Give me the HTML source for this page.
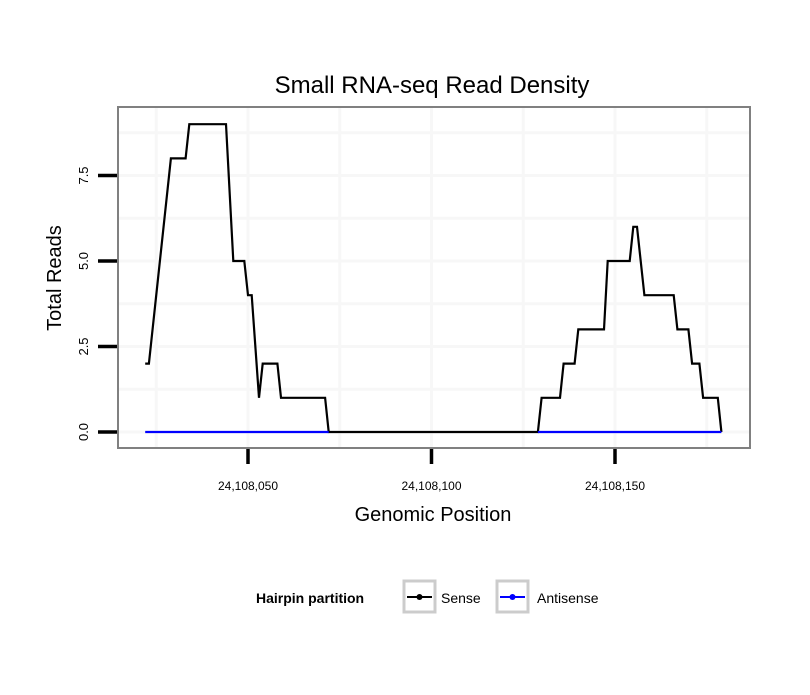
<!DOCTYPE html>
<html><head><meta charset="utf-8"><style>
body{margin:0;background:#fff;}
svg text{font-family:"Liberation Sans",sans-serif;}
</style></head><body>
<svg id="chart" width="810" height="690" xmlns="http://www.w3.org/2000/svg">
<rect x="0" y="0" width="810" height="690" fill="#fff"/>
<text x="432" y="93" font-size="24" text-anchor="middle">Small RNA-seq Read Density</text>
<g id="grid"></g>
<g id="series"></g>
<rect x="118" y="107" width="632" height="341" fill="none" stroke="#808080" stroke-width="2"/>
<g id="axes"></g>
<text x="433" y="521" font-size="20" text-anchor="middle">Genomic Position</text>
<text transform="translate(61,278) rotate(-90)" font-size="20" text-anchor="middle">Total Reads</text>
<g>
<text x="256" y="603" font-size="14" font-weight="bold">Hairpin partition</text>
<g>
<rect x="404" y="581" width="31" height="31" fill="#fff" stroke="#ccc" stroke-width="3"/>
<line x1="407" y1="597" x2="432" y2="597" stroke="#000" stroke-width="2"/>
<circle cx="419.5" cy="597" r="3" fill="#000"/>
<text x="441" y="603" font-size="14">Sense</text></g>
<g>
<rect x="497" y="581" width="31" height="31" fill="#fff" stroke="#ccc" stroke-width="3"/>
<line x1="500" y1="597" x2="525" y2="597" stroke="#00f" stroke-width="2"/>
<circle cx="512.5" cy="597" r="3" fill="#00f"/>
<text x="537" y="603" font-size="14">Antisense</text></g>
</g>
</svg>
<script>
const senseOffsets=[22,23,29,33,34,44,46,49,50,51,53,54,58,59,71,72,129,130,135,136,139,140,147,148,154,155,156,158,166,167,170,171,173,174,178,179];
const senseValues=[2,2,8,8,9,9,5,5,4,4,1,2,2,1,1,0,0,1,1,2,2,3,3,5,5,6,6,4,4,3,3,2,2,1,1,0];
const antiOffsets=[22,72,null,129,179];
const antiValues=[0,0,null,0,0];
const xTicks=[50,100,150];
const xTickLabels=["24,108,050","24,108,100","24,108,150"];
const yTicks=[0,2.5,5,7.5];
const yTickLabels=["0.0","2.5","5.0","7.5"];
const xMinor=[25,75,125,175];
const yMinor=[1.25,3.75,6.25,8.75];
const X=o=>248+(o-50)*3.67;
const Y=v=>432-v*34.2;
const NS="http://www.w3.org/2000/svg";
function mk(tag,attrs,parent){const e=document.createElementNS(NS,tag);for(const k in attrs)e.setAttribute(k,attrs[k]);parent.appendChild(e);return e;}
const grid=document.getElementById('grid'),ser=document.getElementById('series'),axes=document.getElementById('axes');
xMinor.concat(xTicks).forEach(o=>{const l=mk('line',{x1:X(o),x2:X(o),y1:108,y2:447,stroke:'#f7f7f7','stroke-width':3},grid);

});
yMinor.concat(yTicks).forEach(v=>{const l=mk('line',{x1:119,x2:749,y1:Y(v),y2:Y(v),stroke:'#f7f7f7','stroke-width':3},grid);

});
function path(offs,vals){let d='',pen=false;for(let i=0;i<offs.length;i++){if(offs[i]===null){pen=false;continue;}d+=(pen?'L':'M')+X(offs[i]).toFixed(1)+','+Y(vals[i]).toFixed(1);pen=true;}return d;}
const s=mk('path',{d:path(senseOffsets,senseValues),fill:'none',stroke:'#000','stroke-width':2.2},ser);


const a=mk('path',{d:path(antiOffsets,antiValues),fill:'none',stroke:'#00f','stroke-width':2.2},ser);


xTicks.forEach((o,i)=>{const t=mk('line',{x1:X(o),x2:X(o),y1:449,y2:464,stroke:'#000','stroke-width':3.5},axes);


const tx=mk('text',{x:X(o),y:490,'font-size':12,'text-anchor':'middle'},axes);tx.textContent=xTickLabels[i];

});
yTicks.forEach((v,i)=>{const t=mk('line',{x1:98,x2:117,y1:Y(v),y2:Y(v),stroke:'#000','stroke-width':3.5},axes);


const tx=mk('text',{transform:`translate(88,${Y(v)}) rotate(-90)`,'font-size':13,'text-anchor':'middle'},axes);tx.textContent=yTickLabels[i];

});
</script>
</body></html>
